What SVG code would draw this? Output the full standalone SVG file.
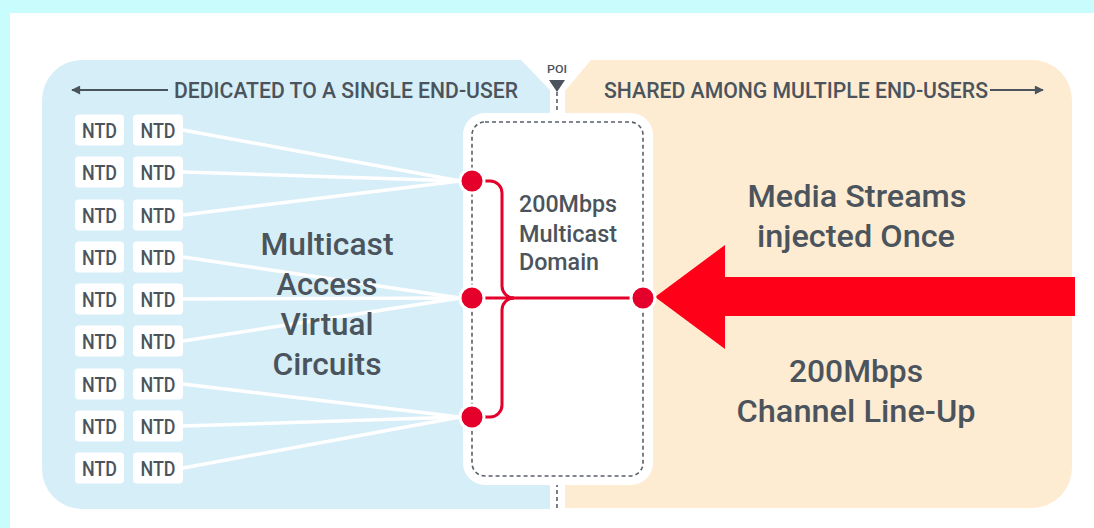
<svg xmlns="http://www.w3.org/2000/svg" width="1094" height="528" viewBox="0 0 1094 528">
  <defs>
    <style>
      .t { font-family: Roboto, "Liberation Sans", sans-serif; fill: #4b545c; font-weight: 500; }
      .hdr { font-size: 22px; }
      .big { font-size: 32px; text-anchor: middle; }
      .mid { font-size: 24px; }
      .ntd rect { fill: #ffffff; }
      .ntd text { font-family: Roboto, "Liberation Sans", sans-serif; font-size: 20px; font-weight: 500; fill: #4b545c; text-anchor: middle; }
      .feed { stroke: #ffffff; stroke-width: 3.5; fill: none; }
      .red { stroke: #e4002b; stroke-width: 3; fill: none; }
      .node { fill: #e4002b; stroke: #ffffff; stroke-width: 3; }
      .dash { stroke: #5a6068; stroke-width: 1.6; stroke-dasharray: 4 3; fill: none; }
    </style>
    <!-- arrowhead drawn pointing forward; reversed automatically at the line start -->
    <marker id="arrowHead" viewBox="0 0 10 10" refX="9" refY="5" markerWidth="5" markerHeight="4.5" orient="auto-start-reverse" markerUnits="strokeWidth">
      <path d="M0,0 L10,5 L0,10 Z" fill="#4b545c"/>
    </marker>
    <g id="ntdPair" class="ntd">
      <rect x="75" y="-15.5" width="49" height="31" rx="4"/>
      <rect x="133" y="-15.5" width="50" height="31" rx="4"/>
      <text x="99.5" y="7.5" textLength="35" lengthAdjust="spacingAndGlyphs">NTD</text>
      <text x="158" y="7.5" textLength="35" lengthAdjust="spacingAndGlyphs">NTD</text>
    </g>
  </defs>

  <!-- page frame -->
  <rect x="0" y="0" width="1094" height="528" fill="#c8fcfd"/>
  <rect x="10" y="13" width="1084" height="515" fill="#ffffff"/>

  <!-- dedicated (access) zone -->
  <path id="zone-dedicated" d="M82,60 H521 L550,90 V509 H82 A40,40 0 0 1 42,469 V100 A40,40 0 0 1 82,60 Z" fill="#d6eef8"/>
  <!-- shared zone -->
  <path id="zone-shared" d="M565,91 L591,60 H1032 A40,40 0 0 1 1072,100 V468 A40,40 0 0 1 1032,508 H565 Z" fill="#fdebd2"/>

  <!-- zone headings -->
  <g id="heading-dedicated">
    <line x1="72" y1="90" x2="168" y2="90" stroke="#4b545c" stroke-width="2" marker-start="url(#arrowHead)"/>
    <text class="t hdr" x="174" y="98" textLength="344" lengthAdjust="spacingAndGlyphs">DEDICATED TO A SINGLE END-USER</text>
  </g>
  <g id="heading-shared">
    <text class="t hdr" x="604" y="98" textLength="384" lengthAdjust="spacingAndGlyphs">SHARED AMONG MULTIPLE END-USERS</text>
    <line x1="990" y1="90" x2="1043" y2="90" stroke="#4b545c" stroke-width="2" marker-end="url(#arrowHead)"/>
  </g>

  <!-- point of interconnect -->
  <g id="poi">
    <text class="t" x="557" y="73" font-size="11" text-anchor="middle" textLength="20" lengthAdjust="spacingAndGlyphs">POI</text>
    <path d="M549,80 H565 L557,92 Z" fill="#4b545c"/>
    <line class="dash" x1="557" y1="92" x2="557" y2="122"/>
    <line class="dash" x1="557" y1="476" x2="557" y2="509"/>
  </g>

  <!-- multicast domain box -->
  <g id="multicast-domain">
    <rect x="463" y="113" width="190" height="372" rx="22" fill="#ffffff"/>
    <rect class="dash" x="472" y="122" width="171" height="354" rx="13"/>
    <text class="t mid" x="519" y="212" textLength="98" lengthAdjust="spacingAndGlyphs">200Mbps</text>
    <text class="t mid" x="519" y="242" textLength="98" lengthAdjust="spacingAndGlyphs">Multicast</text>
    <text class="t mid" x="519" y="270" textLength="80" lengthAdjust="spacingAndGlyphs">Domain</text>
  </g>

  <!-- connectors -->
  <g id="connectors">
    <!-- access circuits: NTD to aggregation points -->
    <line class="feed" x1="183" y1="130" x2="460" y2="181"/>
    <line class="feed" x1="183" y1="172" x2="460" y2="181"/>
    <line class="feed" x1="183" y1="215" x2="460" y2="181"/>
    <line class="feed" x1="183" y1="257" x2="460" y2="298"/>
    <line class="feed" x1="183" y1="299" x2="460" y2="298"/>
    <line class="feed" x1="183" y1="341" x2="460" y2="298"/>
    <line class="feed" x1="183" y1="384" x2="460" y2="417"/>
    <line class="feed" x1="183" y1="426" x2="460" y2="417"/>
    <line class="feed" x1="183" y1="468" x2="460" y2="417"/>
    <!-- multicast tree -->
    <line class="red" x1="472" y1="298" x2="643" y2="298"/>
    <path class="red" d="M472,181 H490 A12,12 0 0 1 502,193 V286 A12,12 0 0 0 514,298"/>
    <path class="red" d="M472,417 H490 A12,12 0 0 0 502,405 V310 A12,12 0 0 1 514,298"/>
    <!-- injected stream -->
    <path id="stream-arrow" d="M655,297 L725,245 V277 H1075 V316 H725 V349 Z" fill="#ff0019"/>
  </g>

  <!-- aggregation nodes -->
  <g id="node-top"><circle class="node" cx="472" cy="181" r="12"/></g>
  <g id="node-middle"><circle class="node" cx="472" cy="298" r="12"/></g>
  <g id="node-bottom"><circle class="node" cx="472" cy="417" r="12"/></g>
  <g id="node-ingress"><circle class="node" cx="643" cy="298" r="12"/></g>

  <!-- end-user terminals -->
  <g id="ntd-row-1"><use href="#ntdPair" y="130"/></g>
  <g id="ntd-row-2"><use href="#ntdPair" y="172"/></g>
  <g id="ntd-row-3"><use href="#ntdPair" y="215"/></g>
  <g id="ntd-row-4"><use href="#ntdPair" y="257"/></g>
  <g id="ntd-row-5"><use href="#ntdPair" y="299"/></g>
  <g id="ntd-row-6"><use href="#ntdPair" y="341"/></g>
  <g id="ntd-row-7"><use href="#ntdPair" y="384"/></g>
  <g id="ntd-row-8"><use href="#ntdPair" y="426"/></g>
  <g id="ntd-row-9"><use href="#ntdPair" y="468"/></g>

  <!-- zone labels -->
  <g id="label-access">
    <text class="t big" x="327" y="255" textLength="133" lengthAdjust="spacingAndGlyphs">Multicast</text>
    <text class="t big" x="327" y="295" textLength="101" lengthAdjust="spacingAndGlyphs">Access</text>
    <text class="t big" x="327" y="335" textLength="93" lengthAdjust="spacingAndGlyphs">Virtual</text>
    <text class="t big" x="327" y="375" textLength="109" lengthAdjust="spacingAndGlyphs">Circuits</text>
  </g>
  <g id="label-streams">
    <text class="t big" x="857" y="207" textLength="219" lengthAdjust="spacingAndGlyphs">Media Streams</text>
    <text class="t big" x="856" y="247" textLength="198" lengthAdjust="spacingAndGlyphs">injected Once</text>
  </g>
  <g id="label-lineup">
    <text class="t big" x="856" y="382" textLength="134" lengthAdjust="spacingAndGlyphs">200Mbps</text>
    <text class="t big" x="856" y="422" textLength="239" lengthAdjust="spacingAndGlyphs">Channel Line-Up</text>
  </g>
</svg>
